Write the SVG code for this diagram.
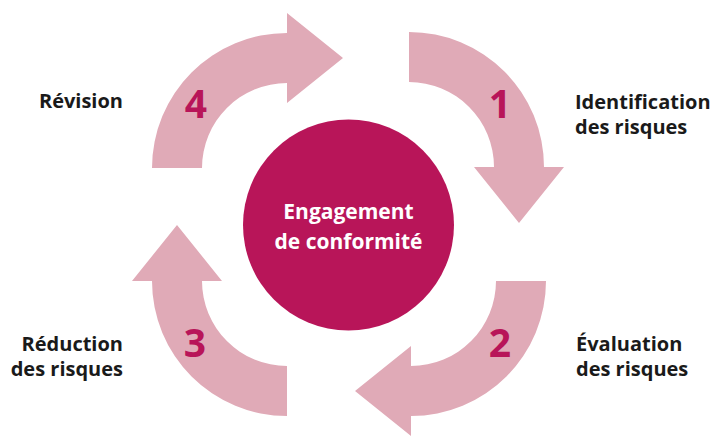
<svg xmlns="http://www.w3.org/2000/svg" width="716" height="436" viewBox="0 0 716 436">
  <style>
    .arrow { fill: #E0AAB7; }
    .hub { fill: #B81559; }
    .num { font-family: "Open Sans", "Noto Sans", sans-serif; font-weight: 700; font-size: 39px; fill: #B81559; text-anchor: middle; }
    .hub-text { font-family: "Open Sans", "Noto Sans", sans-serif; font-weight: 700; font-size: 21px; fill: #FFFFFF; text-anchor: middle; }
    .label { font-family: "Open Sans", "Noto Sans", sans-serif; font-weight: 700; font-size: 20px; fill: #1A1A1A; }
    .left { text-anchor: end; }
  </style>
  <rect width="716" height="436" fill="#FFFFFF"/>

  <!-- curved cycle arrows -->
  <g id="connectors">
    <path id="arrow-1" class="arrow" d="M409,32 A135,135 0 0 1 544,167 L564,167 L519,223 L474,167 L494,167 A85,85 0 0 0 409,82 Z"/>
    <path id="arrow-2" class="arrow" d="M546,281 A135,135 0 0 1 411,416 L411,436 L355,391 L411,346 L411,366 A85,85 0 0 0 496,281 Z"/>
    <path id="arrow-3" class="arrow" d="M287,416 A135,135 0 0 1 152,281 L132,281 L177,225 L222,281 L202,281 A85,85 0 0 0 287,366 Z"/>
    <path id="arrow-4" class="arrow" d="M152,168 A135,135 0 0 1 287,33 L287,13 L343,58 L287,103 L287,83 A85,85 0 0 0 202,168 Z"/>
  </g>

  <!-- central hub -->
  <g id="hub">
    <circle class="hub" cx="348.5" cy="225" r="105.5"/>
    <text class="hub-text" x="348.5" y="219">Engagement</text>
    <text class="hub-text" x="348.5" y="249">de conformité</text>
  </g>

  <g id="step-1">
    <text class="num" x="500" y="118">1</text>
    <text class="label" x="575" y="109">Identification</text>
    <text class="label" x="575" y="134">des risques</text>
  </g>

  <g id="step-2">
    <text class="num" x="500" y="357">2</text>
    <text class="label" x="576" y="351">Évaluation</text>
    <text class="label" x="576" y="376">des risques</text>
  </g>

  <g id="step-3">
    <text class="num" x="195" y="357">3</text>
    <text class="label left" x="123" y="351">Réduction</text>
    <text class="label left" x="123" y="376">des risques</text>
  </g>

  <g id="step-4">
    <text class="num" x="196" y="118">4</text>
    <text class="label left" x="123" y="108">Révision</text>
  </g>
</svg>
